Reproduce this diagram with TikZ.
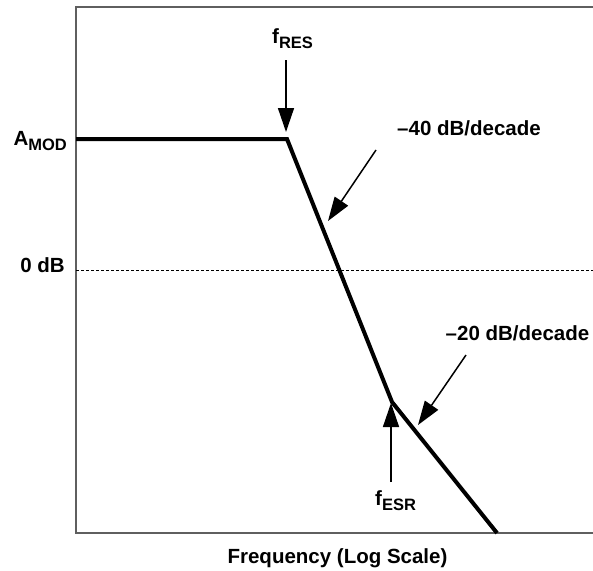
\documentclass[tikz,border=0pt]{standalone}
\usepackage{fontspec}
\setmainfont{Liberation Sans}
\usetikzlibrary{arrows.meta}
\definecolor{axisgray}{RGB}{95,95,95}
\newcommand{\lowsub}[1]{\raisebox{-5pt}{\fontsize{16.5}{18}\selectfont #1}}

\begin{document}
\begin{tikzpicture}[
  x = 1pt, y = -1pt,
  every node/.style = {inner sep = 0, font = \fontsize{20.5}{24}\selectfont\bfseries},
  axis/.style = {draw = axisgray, line width = 2pt},
  curve/.style = {draw, line width = 4pt},
  zeroline/.style = {draw, line width = 0.8pt, dash pattern = on 3pt off 2pt},
  pointer/.style = {draw, line width = 1.5pt, -{Triangle[length = 24pt, width = 16pt]}}
  ]
  \useasboundingbox (0,0) rectangle (593,570);
  \coordinate (topright) at (593,7);
  \coordinate (origin) at (76,7);
  \coordinate (botleft) at (76,533);
  \coordinate (botright) at (593,533);
  \coordinate (zleft) at (76,270);
  \coordinate (zright) at (593,270);
  \coordinate (start) at (76,139);
  \coordinate (res) at (287,139);
  \coordinate (esr) at (392,402);
  \coordinate (stop) at (497,533);
  \coordinate (resfrom) at (286,60);
  \coordinate (resto) at (286,132);
  \coordinate (m40from) at (376,150);
  \coordinate (m40to) at (328,221);
  \coordinate (m20from) at (466,355);
  \coordinate (m20to) at (418,425);
  \coordinate (esrfrom) at (391,482);
  \coordinate (esrto) at (391,403);

  \path[axis] (topright) -- (origin) -- (botleft) -- (botright);
  \path[zeroline] (zleft) -- (zright);
  \path[curve] (start) -- (res) -- (esr) -- (stop);

  \path[pointer] (resfrom) -- (resto);
  \path[pointer] (m40from) -- (m40to);
  \path[pointer] (m20from) -- (m20to);
  \path[pointer] (esrfrom) -- (esrto);

  \node[anchor = base east] (amod) at (67,145) {A\lowsub{MOD}};
  \node[anchor = base east] (zerodb) at (65,272) {0 dB};
  \node[anchor = base west] (fres) at (272,43) {f\lowsub{RES}};
  \node[anchor = base west] (fesr) at (375,505) {f\lowsub{ESR}};
  \node[anchor = base] (m40) at (469,135) {–40 dB/decade};
  \node[anchor = base] (m20) at (517.5,340) {–20 dB/decade};
  \node[anchor = base] (freq) at (337.5,563) {Frequency (Log Scale)};
\end{tikzpicture}
\end{document}
